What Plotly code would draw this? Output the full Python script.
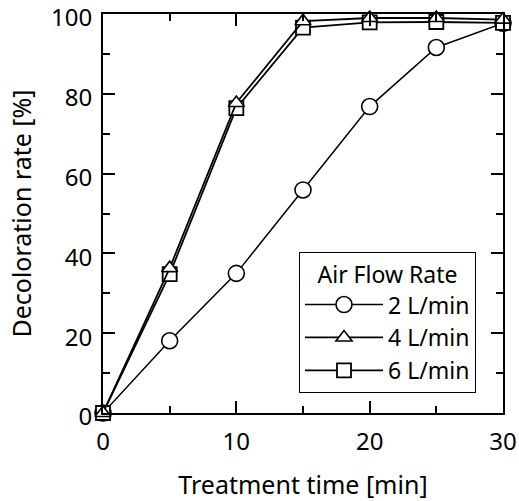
import plotly.graph_objects as go

time_min = [0, 5, 10, 15, 20, 25, 30]
rate_2 = [0, 18.1, 35.0, 55.9, 76.8, 91.6, 97.7]
rate_4 = [0, 36.3, 77.7, 98.2, 99.0, 99.0, 98.6]
rate_6 = [0, 34.8, 76.4, 96.6, 97.9, 98.0, 97.8]
series_names = ["2 L/min", "4 L/min", "6 L/min"]
x_ticks = [0, 10, 20, 30]
y_ticks = [0, 20, 40, 60, 80, 100]

FONT = "Noto Sans"
fig = go.Figure()

fig.add_trace(go.Scatter(
    x=time_min, y=rate_2, name=series_names[0], mode="lines+markers",
    line=dict(color="black", width=1.5),
    marker=dict(symbol="circle", size=16, color="white", line=dict(color="black", width=1.6)),
    cliponaxis=False, legendrank=1))
fig.add_trace(go.Scatter(
    x=time_min, y=rate_6, name=series_names[2], mode="lines+markers",
    line=dict(color="black", width=1.8),
    marker=dict(symbol="square", size=14, color="white", line=dict(color="black", width=1.8)),
    cliponaxis=False, legendrank=3))
fig.add_trace(go.Scatter(
    x=time_min, y=rate_4, name=series_names[1], mode="lines+markers",
    line=dict(color="black", width=1.8),
    marker=dict(symbol="triangle-up", size=14, color="white", line=dict(color="black", width=1.6)),
    cliponaxis=False, legendrank=2))

axis_common = dict(
    showline=True, linecolor="black", linewidth=2, mirror="ticks",
    ticks="inside", ticklen=12, tickwidth=2, tickcolor="black",
    showgrid=False, zeroline=False, automargin=False,
    tickfont=dict(family=FONT, size=24, color="black"),
    ticklabeloverflow="allow",
)

fig.update_xaxes(
    range=[0, 30], tickmode="array", tickvals=x_ticks,
    minor=dict(dtick=5, tick0=0, ticks="inside", ticklen=7, tickwidth=2, tickcolor="black", showgrid=False),
    title=dict(text="Treatment time [min]", font=dict(family=FONT, size=25, color="black"), standoff=22),
    ticklabelstandoff=6,
    **axis_common)
fig.update_yaxes(
    range=[0, 100], tickmode="array", tickvals=y_ticks,
    minor=dict(dtick=10, tick0=0, ticks="inside", ticklen=7, tickwidth=2, tickcolor="black", showgrid=False),
    title=dict(text="Decoloration rate [%]", font=dict(family=FONT, size=25, color="black"), standoff=12),
    ticklabelstandoff=4, ticklabelshift=4,
    **axis_common)

fig.update_layout(
    width=519, height=501,
    margin=dict(l=103, r=16, t=14, b=88),
    paper_bgcolor="white", plot_bgcolor="white",
    font=dict(family=FONT, size=24, color="black"),
    legend=dict(
        x=0.49, y=0.403, xanchor="left", yanchor="top",
        bgcolor="white", bordercolor="black", borderwidth=1,
        title=dict(text="Air Flow Rate", side="top center", font=dict(family=FONT, size=23)),
        font=dict(family=FONT, size=23, color="black"),
        tracegroupgap=2, itemwidth=78,
    ),
)

fig.write_html("out.html")
